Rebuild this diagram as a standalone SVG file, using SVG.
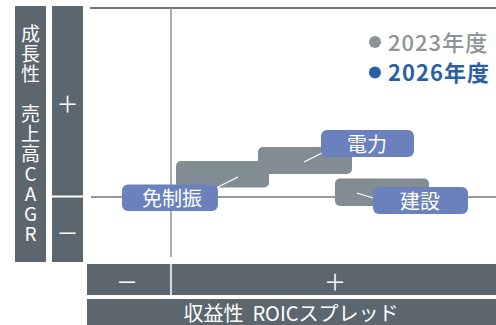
<svg xmlns="http://www.w3.org/2000/svg" width="496" height="325" viewBox="0 0 496 325">
<style>
.panel{fill:#5b666e}
.old{fill:#818c93}
.new{fill:#6a81bd}
.jp{font-family:"Noto Sans CJK JP","Noto Sans",sans-serif}
.wt{fill:#ffffff;text-anchor:middle;dominant-baseline:central}
.lbl{font-size:20px}
.sg{font-size:22px}
.vt{fill:#ffffff;font-size:19px;letter-spacing:1px;writing-mode:vertical-rl;text-orientation:upright}
.arr{stroke:#ffffff;stroke-width:1.3;fill:none;marker-end:url(#ah)}
</style>
<defs>
<marker id="ah" viewBox="0 0 10 10" refX="9" refY="5" markerWidth="6" markerHeight="6" orient="auto" markerUnits="userSpaceOnUse">
<path d="M0,1 L10,5 L0,9 z" fill="#ffffff"/>
</marker>
</defs>
<rect width="496" height="325" fill="#ffffff"/>

<g id="y-axis-title">
<rect class="panel" x="15" y="6" width="31" height="256"/>
<text class="jp vt" x="30.5" y="24">成長性　売上高CAGR</text>
</g>

<g id="y-axis-signs">
<rect class="panel" x="52" y="6" width="31" height="189.5"/>
<rect class="panel" x="52" y="197.5" width="31" height="64.5"/>
<text class="jp wt sg" x="67.5" y="102">＋</text>
<text class="jp wt sg" x="67.5" y="231">－</text>
</g>

<g id="x-axis-signs">
<rect class="panel" x="87" y="264" width="409" height="31"/>
<line x1="171" y1="264" x2="171" y2="295" stroke="#ffffff" stroke-width="1.5"/>
<text class="jp wt sg" x="127" y="280">－</text>
<text class="jp wt sg" x="335" y="280">＋</text>
</g>

<g id="x-axis-title">
<rect class="panel" x="87" y="299" width="409" height="26"/>
<text class="jp" x="291" y="320.5" font-size="20" fill="#ffffff" text-anchor="middle" xml:space="preserve">収益性  ROICスプレッド</text>
</g>

<g id="axes">
<line x1="90" y1="8" x2="496" y2="8" stroke="#444a4e" stroke-width="1.5"/>
<line x1="171" y1="8" x2="171" y2="257" stroke="#8c9196" stroke-width="1.5"/>
<line x1="91" y1="197" x2="496" y2="197" stroke="#333333" stroke-width="1.2"/>
</g>

<g id="legend">
<circle cx="375" cy="42" r="6" fill="#8a949a"/>
<text class="jp" x="388" y="50.5" font-size="22" letter-spacing="1" font-weight="500" fill="#8a949a">2023年度</text>
<circle cx="375" cy="72.5" r="6" fill="#2a5fa8"/>
<text class="jp" x="388" y="81" font-size="22" letter-spacing="1" font-weight="bold" fill="#2a5fa8">2026年度</text>
</g>

<g id="menseishin-2023"><rect class="old" x="176" y="161" width="93" height="26.5" rx="5"/></g>
<g id="denryoku-2023"><rect class="old" x="258" y="147" width="94" height="27" rx="5"/></g>
<g id="kensetsu-2023"><rect class="old" x="335" y="178.5" width="94" height="27.5" rx="5"/></g>

<g id="connectors">
<line class="arr" x1="238" y1="177" x2="208" y2="192"/>
<line class="arr" x1="304" y1="162" x2="334" y2="147"/>
<line class="arr" x1="357" y1="193" x2="389" y2="203"/>
</g>

<g id="menseishin-2026">
<rect class="new" x="122" y="184.5" width="96" height="26.5" rx="6"/>
<text class="jp wt lbl" x="172" y="197.5">免制振</text>
</g>
<g id="denryoku-2026">
<rect class="new" x="321" y="130" width="93" height="27" rx="6"/>
<text class="jp wt lbl" x="367" y="143.5">電力</text>
</g>
<g id="kensetsu-2026">
<rect class="new" x="373" y="187" width="95" height="27" rx="6"/>
<text class="jp wt lbl" x="420" y="200.5">建設</text>
</g>
</svg>
